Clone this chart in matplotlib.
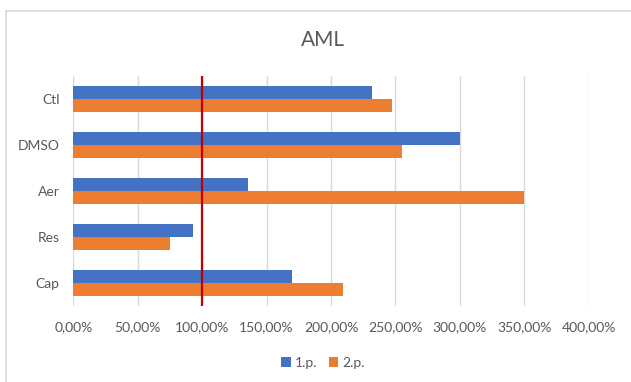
import numpy as np
import matplotlib.pyplot as plt
from matplotlib.lines import Line2D
from matplotlib.ticker import FuncFormatter

plt.rcParams['font.family'] = ['Lato', 'DejaVu Sans']

# relative values per treatment, in percent
categories = ['Ctl', 'DMSO', 'Aer', 'Res', 'Cap']
first_pass = [231.6, 300.0, 135.8, 93.1, 170.0]
second_pass = [247.1, 254.9, 350.0, 74.8, 209.5]
series_names = ['1.p.', '2.p.']
reference_level = 100.0

blue = '#4472C4'
orange = '#ED7D31'
text_grey = '#595959'
grid_grey = '#D9D9D9'

fig = plt.figure(figsize=(6.31, 3.82), dpi=100)
ax = fig.add_axes([0.1162, 0.199, 0.8168, 0.602])

idx = np.arange(len(categories))
h = 0.283
ax.barh(idx - h / 2, first_pass, height=h, color=blue, label=series_names[0], zorder=2)
ax.barh(idx + h / 2, second_pass, height=h, color=orange, label=series_names[1], zorder=2)
ax.axvline(reference_level, color='#C00000', lw=1.6, zorder=3)

ax.set_xlim(0, 400)
ax.set_ylim(len(categories) - 0.5, -0.5)
ax.set_xticks(np.arange(0, 401, 50))
ax.xaxis.set_major_formatter(FuncFormatter(lambda v, p: f'{v:.2f}%'.replace('.', ',')))
ax.set_yticks(idx)
ax.set_yticklabels(categories)
ax.tick_params(axis='x', length=0, pad=11, labelsize=10, labelcolor=text_grey)
ax.tick_params(axis='y', length=0, pad=10, labelsize=10, labelcolor=text_grey)
ax.grid(axis='x', color=grid_grey, lw=1, zorder=0)
ax.set_axisbelow(True)
for s in ax.spines.values():
    s.set_visible(False)

fig.text(323 / 631, 1 - 40 / 382, 'AML', ha='center', va='center',
         fontsize=15, color=text_grey)

fig.legend(loc='center', bbox_to_anchor=(323 / 631, 1 - 363 / 382), ncol=2,
           frameon=False, fontsize=10, labelcolor=text_grey,
           handlelength=0.7, handleheight=0.7, handletextpad=0.3, columnspacing=0.8)

# chart frame (top and left edges)
fig.add_artist(Line2D([6 / 631, 6 / 631], [0, 1 - 11 / 382], color=grid_grey, lw=1.2))
fig.add_artist(Line2D([6 / 631, 1], [1 - 11 / 382, 1 - 11 / 382], color=grid_grey, lw=1.2))

fig.savefig('out.png', dpi=100)
